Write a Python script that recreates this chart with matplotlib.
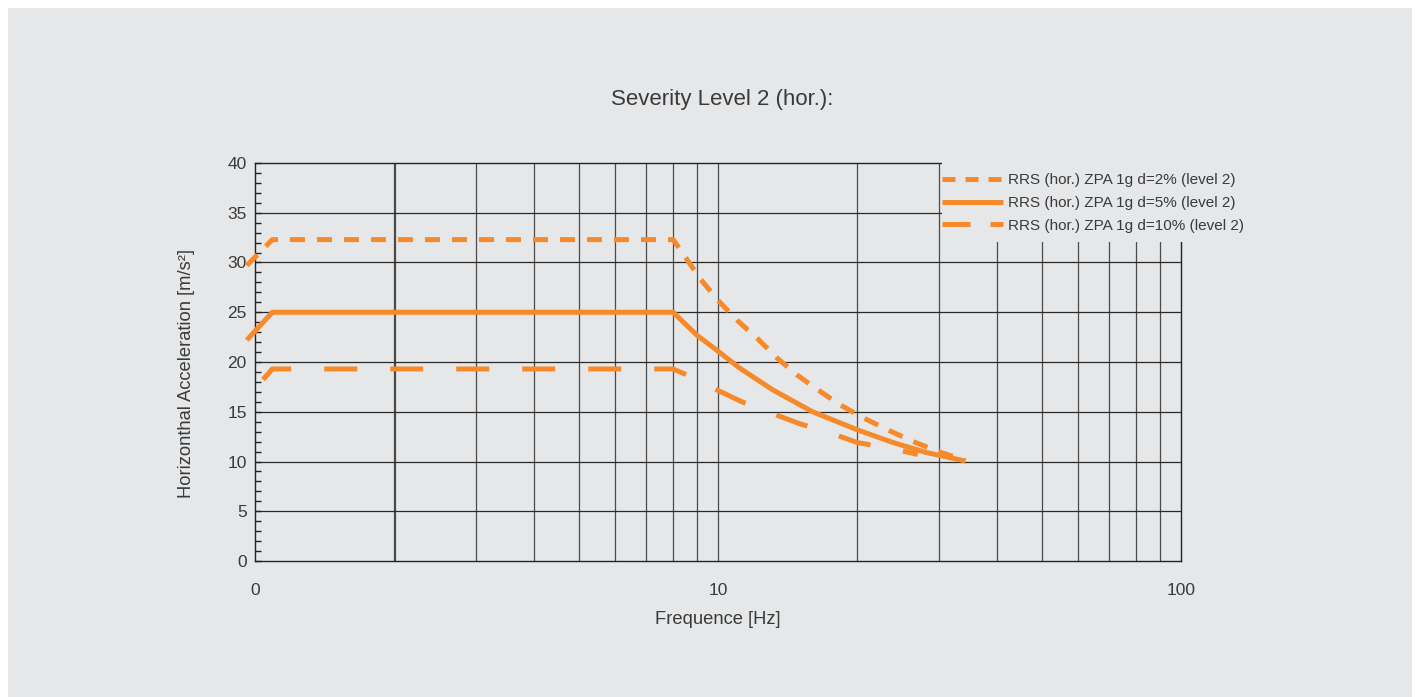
import matplotlib
matplotlib.use("Agg")
import matplotlib.pyplot as plt
from matplotlib.lines import Line2D
from matplotlib.patches import Rectangle
from matplotlib.ticker import FixedLocator, MultipleLocator, NullLocator

# Response spectra (frequency in Hz, acceleration in m/s^2)
freq_2 = [0.96, 1.09, 8.0, 8.4, 9.14, 10.0, 10.99, 12.14, 13.41, 14.81, 16.44,
          18.34, 20.57, 23.2, 26.4, 29.9, 34.2]
acc_2 = [29.7, 32.3, 32.3, 30.9, 28.4, 26.2, 24.2, 22.4, 20.4, 18.7, 17.2,
         15.7, 14.4, 13.2, 12.0, 11.0, 10.1]

freq_5 = [0.96, 1.09, 8.0, 9.0, 9.93, 11.13, 13.13, 16.0, 19.95, 23.9, 28.2, 34.2]
acc_5 = [22.2, 25.0, 25.0, 22.7, 21.2, 19.4, 17.2, 15.0, 13.2, 11.9, 10.9, 10.05]

freq_10 = [0.965, 1.09, 8.0, 8.57, 9.94, 11.26, 13.15, 15.0, 17.66, 20.0, 23.8, 27.0]
acc_10 = [16.5, 19.3, 19.3, 18.7, 17.2, 16.0, 14.8, 13.8, 12.8, 11.9, 11.3, 10.7]

labels = ["RRS (hor.) ZPA 1g d=2% (level 2)",
          "RRS (hor.) ZPA 1g d=5% (level 2)",
          "RRS (hor.) ZPA 1g d=10% (level 2)"]

x_ticks = [1, 10, 100]
x_ticklabels = ["0", "10", "100"]
x_grid = [3, 4, 5, 6, 7, 8, 9, 10, 20, 30, 40, 50, 60, 70, 80, 90]
y_ticks = [0, 5, 10, 15, 20, 25, 30, 35, 40]

bg = "#e6e7e9"
orange = "#f68a2a"
txt = "#3a3a3a"

plt.rcParams["font.family"] = ["Liberation Sans", "DejaVu Sans"]

fig = plt.figure(figsize=(14.18, 6.97), dpi=100)
fig.patch.set_facecolor("white")
# grey panel behind everything
fig.patches.append(Rectangle((8 / 1418, 0), 1404 / 1418, 689 / 697,
                             transform=fig.transFigure, facecolor=bg,
                             edgecolor="none", zorder=-10))

ax = fig.add_axes([255 / 1418, 136 / 697, 926 / 1418, 398 / 697])
ax.set_facecolor(bg)
ax.set_xscale("log")
ax.set_xlim(1, 100)
ax.set_ylim(0, 40)

# grid (the 2 Hz line is doubled in the original)
ax.axvline(2 / 1.0035, color="#4a4a4a", lw=0.9, zorder=1)
ax.axvline(2 * 1.0035, color="#4a4a4a", lw=0.9, zorder=1)
for f in x_grid:
    ax.axvline(f, color="#4a4a4a", lw=0.9, zorder=1)
for v in y_ticks[1:-1]:
    ax.axhline(v, color="#2a2a2a", lw=0.9, zorder=1)

lw = 3.6
ax.plot(freq_2, acc_2, color=orange, lw=lw, linestyle=(0, (3.0, 2.4)),
        clip_on=False, zorder=3, dash_capstyle="butt")
ax.plot(freq_5, acc_5, color=orange, lw=lw, linestyle="-",
        clip_on=False, zorder=3, solid_capstyle="butt")
ax.plot(freq_10, acc_10, color=orange, lw=lw, linestyle=(8.6, (6.6, 6.6)),
        clip_on=False, zorder=3, dash_capstyle="butt")

# blank area behind legend
ax.add_patch(Rectangle((30.4, 32.06), 150, 10, facecolor=bg, edgecolor="none",
                       clip_on=False, zorder=4))

for s in ["top", "right", "bottom", "left"]:
    ax.spines[s].set_color("#222222")
    ax.spines[s].set_linewidth(1.0)

ax.xaxis.set_major_locator(FixedLocator(x_ticks))
ax.xaxis.set_minor_locator(NullLocator())
ax.set_xticklabels(x_ticklabels)
ax.tick_params(axis="x", which="both", length=0, pad=16, labelsize=12.5, labelcolor=txt)

ax.yaxis.set_major_locator(FixedLocator(y_ticks))
ax.yaxis.set_minor_locator(MultipleLocator(1))
ax.tick_params(axis="y", which="both", direction="in", length=4, width=1,
               color="#222222", pad=6, labelsize=12.5, labelcolor=txt)

# legend keys have their own dash rhythm in the original
handles = [Line2D([], [], color=orange, lw=lw, linestyle=(0, (2.6, 2.0)), dash_capstyle="butt"),
           Line2D([], [], color=orange, lw=lw, linestyle="-", solid_capstyle="butt"),
           Line2D([], [], color=orange, lw=lw, linestyle=(0, (5.6, 4.0)), dash_capstyle="butt")]
leg = ax.legend(handles, labels, loc="upper left",
                bbox_to_anchor=(942 / 1418, 1 - 173 / 697), bbox_transform=fig.transFigure,
                frameon=False, handlelength=4.0, handletextpad=0.33,
                labelspacing=0.58, borderpad=0, borderaxespad=0,
                prop={"size": 11})
leg.set_zorder(6)
for t in leg.get_texts():
    t.set_color(txt)

fig.text(722 / 1418, 1 - 100 / 697, "Severity Level 2 (hor.):", ha="center", va="center",
         fontsize=16, color=txt)
fig.text(718 / 1418, 1 - 620 / 697, "Frequence [Hz]", ha="center", va="center",
         fontsize=13.2, color=txt)
fig.text(187 / 1418, 1 - 373 / 697, "Horizonthal Acceleration [m/s²]", ha="center",
         va="center", rotation=90, fontsize=13.2, color=txt)

fig.savefig("out.png", dpi=100, facecolor=fig.get_facecolor())
